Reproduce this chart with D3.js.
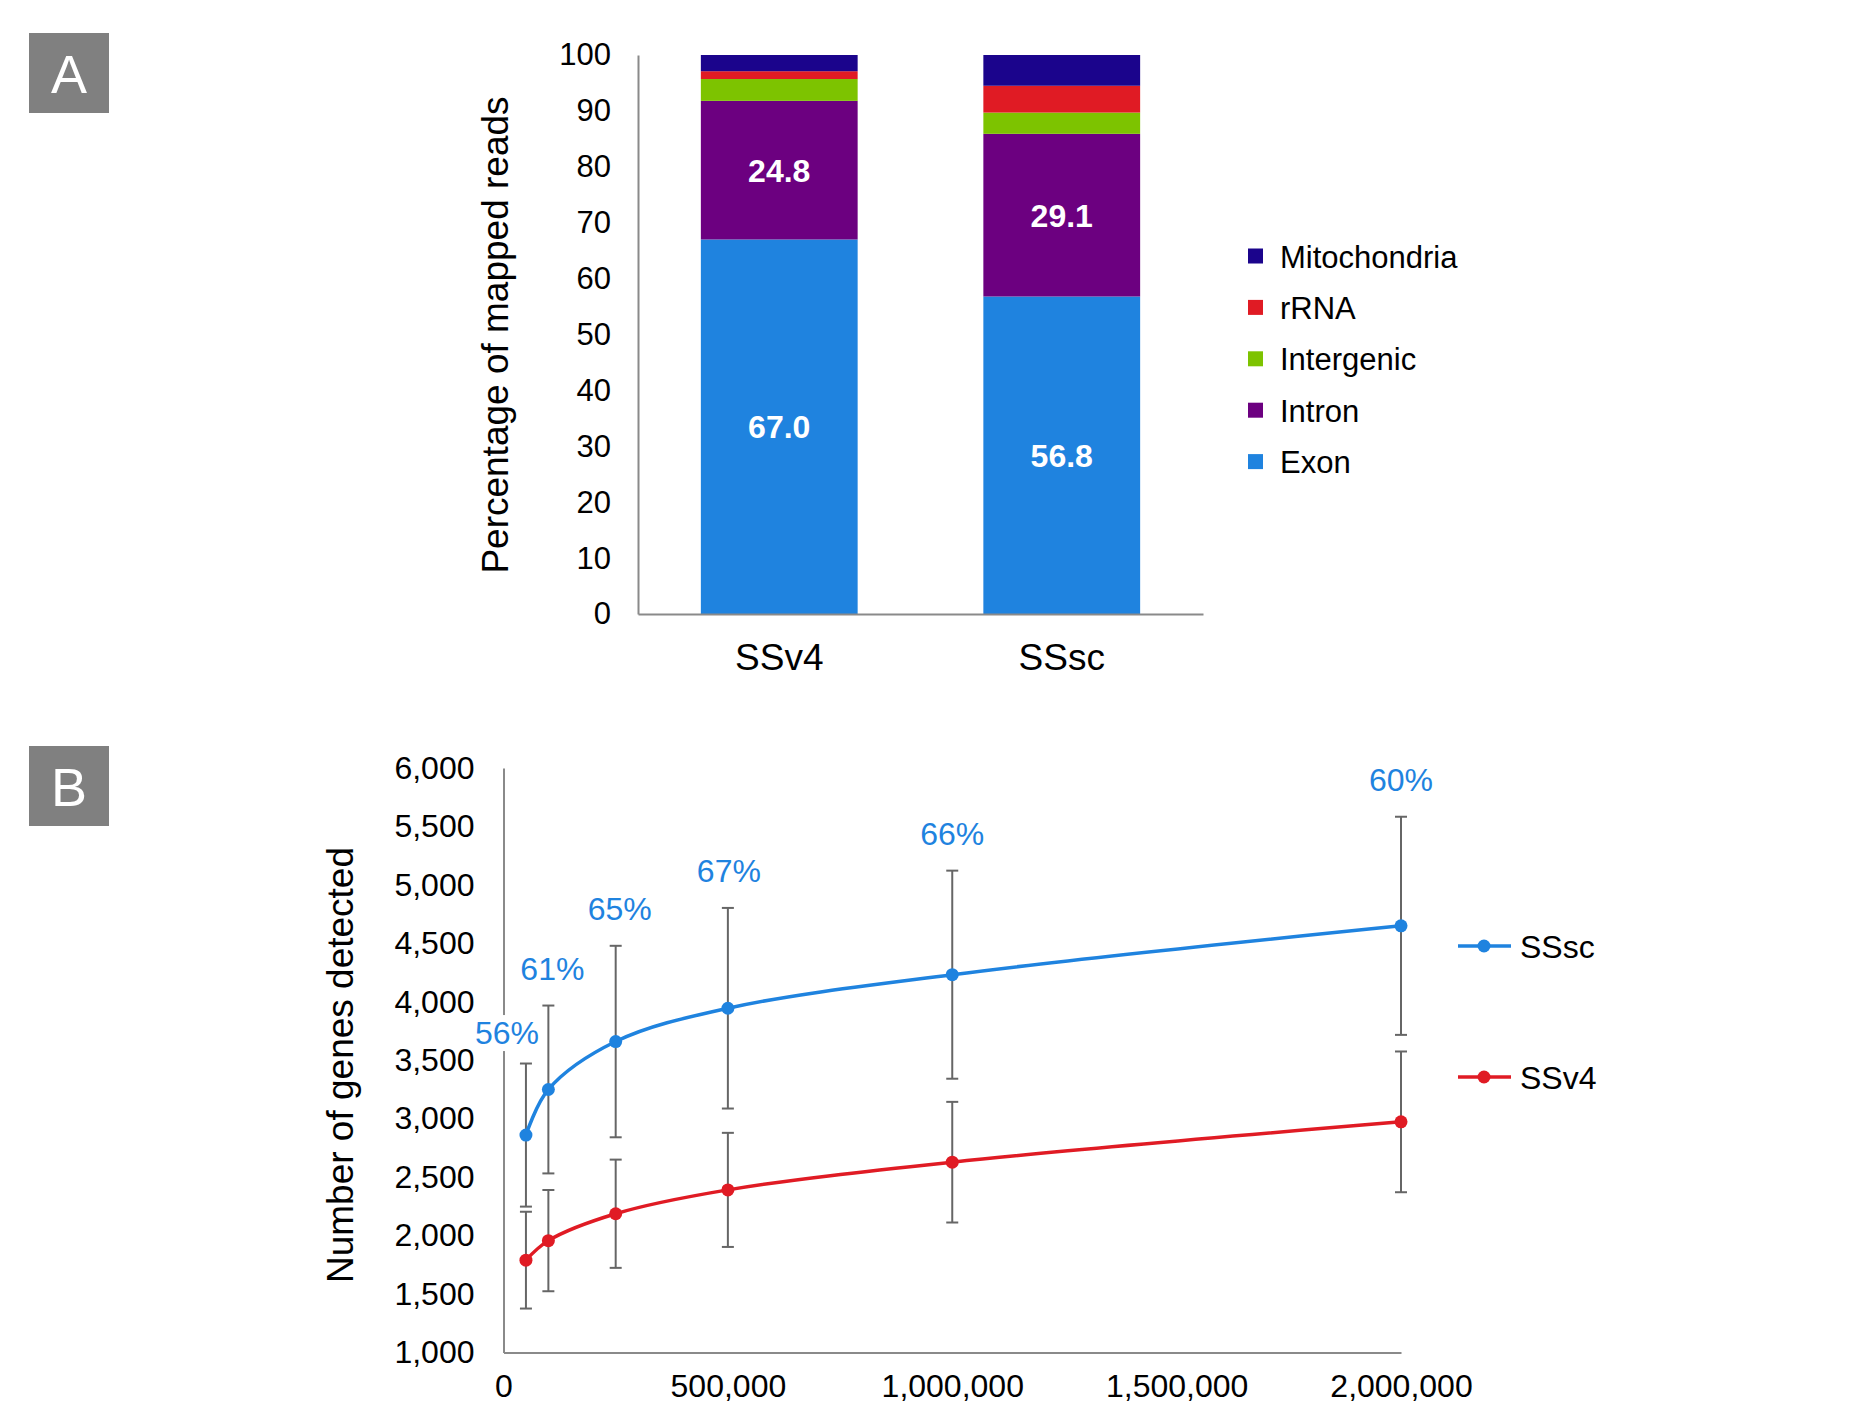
<!DOCTYPE html>
<html>
<head>
<meta charset="utf-8">
<script src="https://cdn.jsdelivr.net/npm/d3@7"></script>
<style>
  html, body { margin: 0; padding: 0; background: #fff; }
  svg { display: block; font-family: "Liberation Sans", Arial, sans-serif; }
</style>
</head>
<body>
<svg id="fig" width="1862" height="1407"></svg>
<script>
// ---- Panel A: composition of mapped reads ----
const protocols = ["SSv4", "SSsc"];
const readClasses = ["Exon", "Intron", "Intergenic", "rRNA", "Mitochondria"];
const exonPct = [67.0, 56.8];
const intronPct = [24.8, 29.1];
const intergenicPct = [3.9, 3.8];
const rrnaPct = [1.4, 4.8];
const mitoPct = [2.9, 5.5];
const pctTicks = [0, 10, 20, 30, 40, 50, 60, 70, 80, 90, 100];

// ---- Panel B: genes detected vs. read depth ----
const readDepth = [50000, 100000, 250000, 500000, 1000000, 2000000];
const ssscGenes = [2860, 3250, 3660, 3945, 4232, 4650];
const ssscSD = [612, 718, 819, 858, 890, 933];
const ssv4Genes = [1790, 1957, 2187, 2391, 2628, 2973];
const ssv4SD = [414, 433, 463, 488, 516, 602];
const ssscExonRate = [56, 61, 65, 67, 66, 60];
const geneTicks = [1000, 1500, 2000, 2500, 3000, 3500, 4000, 4500, 5000, 5500, 6000];
const depthTicks = [0, 500000, 1000000, 1500000, 2000000];

const classColor = {
  Exon: "#1f83df",
  Intron: "#6c0080",
  Intergenic: "#7dc300",
  rRNA: "#e01b24",
  Mitochondria: "#1b048c"
};
const axisGray = "#8a8a8a";
const svg = d3.select("#fig");

// panel tags
function panelTag(x, y, letter) {
  svg.append("rect").attr("x", x).attr("y", y).attr("width", 80).attr("height", 80).attr("fill", "#808080");
  svg.append("text").attr("x", x + 40).attr("y", y + 60).attr("text-anchor", "middle")
    .attr("fill", "#fff").attr("font-size", 54).text(letter);
}
panelTag(29, 33, "A");
panelTag(29, 746, "B");

// ===== Panel A =====
{
  const left = 638, right = 1203, top = 55, bottom = 614;
  const y = d3.scaleLinear().domain([0, 100]).range([bottom, top]);
  const x = d3.scaleBand().domain(protocols).range([left, right]).paddingInner(0.445).paddingOuter(0.2225);

  const seriesVals = { Exon: exonPct, Intron: intronPct, Intergenic: intergenicPct, rRNA: rrnaPct, Mitochondria: mitoPct };
  const rows = protocols.map((p, i) => {
    const r = { protocol: p };
    readClasses.forEach(c => r[c] = seriesVals[c][i]);
    return r;
  });
  const stacked = d3.stack().keys(readClasses)(rows);

  const g = svg.append("g");
  stacked.forEach(layer => {
    g.append("g").attr("fill", classColor[layer.key])
      .selectAll("rect").data(layer).join("rect")
      .attr("x", d => x(d.data.protocol))
      .attr("width", x.bandwidth())
      .attr("y", d => y(d[1]))
      .attr("height", d => y(d[0]) - y(d[1]));
  });

  // value labels on exon and intron segments
  stacked.filter(l => l.key === "Exon" || l.key === "Intron").forEach(layer => {
    g.append("g").selectAll("text").data(layer).join("text")
      .attr("x", d => x(d.data.protocol) + x.bandwidth() / 2)
      .attr("y", d => (y(d[0]) + y(d[1])) / 2)
      .attr("dy", "0.36em")
      .attr("text-anchor", "middle")
      .attr("fill", "#fff").attr("font-weight", "bold").attr("font-size", 32)
      .text(d => (d[1] - d[0]).toFixed(1));
  });

  // axes
  const yAxis = svg.append("g").attr("transform", `translate(${left},0)`)
    .call(d3.axisLeft(y).tickValues(pctTicks).tickSize(0).tickPadding(27));
  yAxis.select(".domain").attr("stroke", axisGray).attr("stroke-width", 2);
  yAxis.selectAll("text").attr("font-size", 31).attr("fill", "#000").attr("font-family", null);

  const xAxis = svg.append("g").attr("transform", `translate(0,${bottom})`)
    .call(d3.axisBottom(x).tickSize(0).tickPadding(30).tickSizeOuter(0));
  xAxis.select(".domain").attr("stroke", axisGray).attr("stroke-width", 2);
  xAxis.selectAll("text").attr("font-size", 37).attr("fill", "#000").attr("font-family", null);

  svg.append("text").attr("transform", "translate(508,335) rotate(-90)")
    .attr("text-anchor", "middle").attr("font-size", 37).text("Percentage of mapped reads");

  // legend (top to bottom: Mitochondria ... Exon)
  const legend = svg.append("g");
  readClasses.slice().reverse().forEach((c, i) => {
    const cy = 256.5 + i * 51.4;
    legend.append("rect").attr("x", 1248).attr("y", cy - 8).attr("width", 15).attr("height", 15).attr("fill", classColor[c]);
    legend.append("text").attr("x", 1280).attr("y", cy).attr("dy", "0.36em").attr("font-size", 31).text(c);
  });
}

// ===== Panel B =====
{
  const left = 503.5, right = 1401, top = 768, bottom = 1352.5;
  const x = d3.scaleLinear().domain([0, 2000000]).range([left, right]);
  const y = d3.scaleLinear().domain([1000, 6000]).range([bottom, top]);
  const fmt = d3.format(",");

  const yAxis = svg.append("g").attr("transform", `translate(${left},0)`)
    .call(d3.axisLeft(y).tickValues(geneTicks).tickFormat(fmt).tickSize(0).tickPadding(29));
  yAxis.select(".domain").attr("stroke", axisGray).attr("stroke-width", 2);
  yAxis.selectAll("text").attr("font-size", 32).attr("fill", "#000").attr("font-family", null);

  const xAxis = svg.append("g").attr("transform", `translate(0,${bottom})`)
    .call(d3.axisBottom(x).tickValues(depthTicks).tickFormat(fmt).tickSize(0).tickPadding(22));
  xAxis.select(".domain").attr("stroke", axisGray).attr("stroke-width", 2);
  xAxis.selectAll("text").attr("font-size", 32).attr("fill", "#000").attr("font-family", null);

  svg.append("text").attr("transform", "translate(353,1065) rotate(-90)")
    .attr("text-anchor", "middle").attr("font-size", 37).text("Number of genes detected");

  const series = [
    { name: "SSsc", color: "#1f83df", mean: ssscGenes, sd: ssscSD },
    { name: "SSv4", color: "#e01b24", mean: ssv4Genes, sd: ssv4SD }
  ];

  const line = d3.line().x(d => x(d.depth)).y(d => y(d.mean)).curve(d3.curveCatmullRom.alpha(0.5));

  // error bars first, then lines and markers on top
  series.forEach(s => {
    const pts = readDepth.map((d, i) => ({ depth: d, mean: s.mean[i], sd: s.sd[i] }));
    const eb = svg.append("g").attr("stroke", "#666").attr("stroke-width", 2);
    pts.forEach(p => {
      const px = x(p.depth), y0 = y(p.mean - p.sd), y1 = y(p.mean + p.sd);
      eb.append("line").attr("x1", px).attr("x2", px).attr("y1", y0).attr("y2", y1);
      eb.append("line").attr("x1", px - 6).attr("x2", px + 6).attr("y1", y0).attr("y2", y0);
      eb.append("line").attr("x1", px - 6).attr("x2", px + 6).attr("y1", y1).attr("y2", y1);
    });
    s.pts = pts;
  });
  series.forEach(s => {
    svg.append("path").datum(s.pts).attr("d", line).attr("fill", "none")
      .attr("stroke", s.color).attr("stroke-width", 3.5);
    svg.append("g").selectAll("circle").data(s.pts).join("circle")
      .attr("cx", d => x(d.depth)).attr("cy", d => y(d.mean)).attr("r", 6.5).attr("fill", s.color);
  });

  // exon-rate annotations above SSsc error bars
  const nudge = [[-19, 6], [4, 0], [4, 0], [1, 0], [0, 0], [0, 0]];
  const ann = svg.append("g");
  readDepth.forEach((d, i) => {
    const cx = x(d) + nudge[i][0];
    const cy = y(ssscGenes[i] + ssscSD[i]) - 37 + nudge[i][1];
    const t = ann.append("text").attr("x", cx).attr("y", cy).attr("dy", "0.36em")
      .attr("text-anchor", "middle").attr("font-size", 32).attr("fill", "#1f83df")
      .text(ssscExonRate[i] + "%");
    const bb = t.node().getBBox();
    ann.insert("rect", () => t.node()).attr("x", bb.x).attr("y", bb.y).attr("width", bb.width).attr("height", bb.height).attr("fill", "#fff");
  });

  // legend
  series.forEach((s, i) => {
    const cy = i === 0 ? 946 : 1077;
    svg.append("line").attr("x1", 1458).attr("x2", 1511).attr("y1", cy).attr("y2", cy)
      .attr("stroke", s.color).attr("stroke-width", 3.5);
    svg.append("circle").attr("cx", 1484).attr("cy", cy).attr("r", 6.5).attr("fill", s.color);
    svg.append("text").attr("x", 1520).attr("y", cy).attr("dy", "0.36em").attr("font-size", 32).text(s.name);
  });
}
</script>
</body>
</html>
